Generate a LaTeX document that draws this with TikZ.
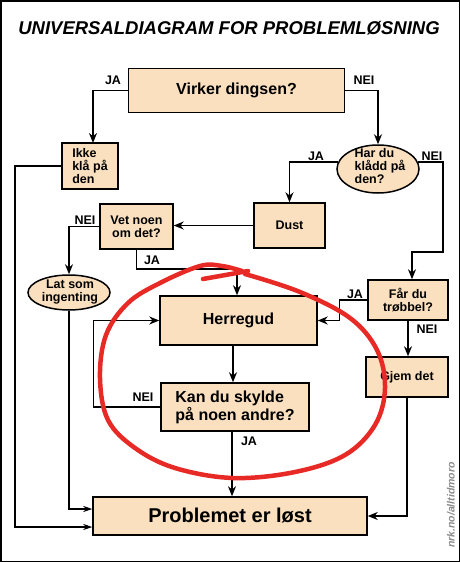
\documentclass[tikz,border=0pt]{standalone}
\usepackage{fontspec}
\setmainfont{Liberation Sans}
\usetikzlibrary{arrows.meta,shapes.geometric,calc}
\definecolor{boxfill}{RGB}{250,224,190}
\definecolor{redpen}{RGB}{232,42,38}
\begin{document}
\begin{tikzpicture}[x=1pt,y=-1pt,
  box/.style={draw=black, line width=1.5pt, fill=boxfill, inner sep=0pt, align=center},
  oval/.style={draw=black, line width=1.5pt, fill=boxfill, inner sep=0pt, ellipse},
  small/.style={font=\bfseries\fontsize{12.5}{13}\selectfont},
  big/.style={font=\bfseries\fontsize{16}{18}\selectfont},
  lbl/.style={font=\bfseries\fontsize{12.5}{13}\selectfont, inner sep=0pt},
  arr/.style={line width=1.5pt, -{Stealth[length=10pt,width=8pt]}},
  tarr/.style={line width=1.1pt, -{Stealth[length=9pt,width=6pt]}},
  redline/.style={draw=redpen, line width=4.5pt, line cap=round, line join=round}
]
\useasboundingbox (0,0) rectangle (460,562);
\fill[white] (0,0) rectangle (460,562);
\draw[line width=1.5pt] (0.75,0.75) rectangle (459.25,561.25);

\node[font=\bfseries\itshape\fontsize{18.5}{20}\selectfont] (title) at (229,28) {UNIVERSALDIAGRAM FOR PROBLEMLØSNING};

% boxes
\node[box, big, minimum width=216pt, minimum height=44pt] (virker) at (236.5,90.5) {Virker dingsen?};
\node[box, small, align=left, minimum width=56pt, minimum height=46pt] (ikke) at (90,166) {Ikke\\klå på\\den};
\node[oval, minimum width=82pt, minimum height=48pt] (har) at (378,169) {};
\node[small, align=left, inner sep=0pt] (hartxt) at (380,166) {Har du\\klådd på\\den?};
\node[box, small, minimum width=71pt, minimum height=45pt] (dust) at (289.5,225.5) {Dust};
\node[box, small, minimum width=73pt, minimum height=45pt] (vet) at (136.5,226.5) {Vet noen\\om det?};
\node[oval, minimum width=82pt, minimum height=35pt] (lat) at (69,292.5) {};
\node[small, align=center, inner sep=0pt] (lattxt) at (70,292) {Lat som\\ingenting};
\node[box, small, minimum width=80pt, minimum height=40pt] (far) at (408,300) {Får du\\trøbbel?};
\node[box, small, minimum width=82pt, minimum height=40pt] (gjem) at (407,377) {Gjem det};
\node[box, big, minimum width=157pt, minimum height=49pt] (herre) at (238.5,320.5) {Herregud};
\node[box, big, align=left, minimum width=148pt, minimum height=48pt] (kan) at (235,407) {Kan du skylde\\på noen andre?};
\node[box, font=\bfseries\fontsize{20}{22}\selectfont, minimum width=274pt, minimum height=38pt] (prob) at (230,516) {Problemet er løst};

% connectors
\draw[arr] (virker.west) -| (93,143);
\node[lbl] (l1) at (113,80) {JA};
\draw[arr] (virker.east) -| (har.north);
\node[lbl] (l2) at (364,80) {NEI};

\draw[arr] (har.170) -| (dust.north);
\node[lbl] (l3) at (316,156) {JA};
\coordinate (n1) at (443,252);
\coordinate (n2) at (412,252);
\draw[arr] (har.10) -| (n1) -- (n2) -- (n2 |- far.north);
\node[lbl] (l4) at (432,156) {NEI};

\draw[arr] (dust.west) -- (vet.east |- dust.west);

\draw[arr] (vet.west) -| (lat.north);
\node[lbl] (l5) at (85,220) {NEI};
\coordinate (j1) at (237,269);
\draw[arr] (vet.south) |- (j1) -- (j1 |- herre.north);
\node[lbl] (l6) at (152,260) {JA};

\draw[arr] (far.west) -- ++(-28,0) |- (herre.east);
\node[lbl] (l7) at (355,294) {JA};
\draw[arr] (far.south) -- (far.south |- gjem.north);
\node[lbl] (l8) at (427,329) {NEI};

\coordinate (h1) at (233,0);
\draw[arr] (h1 |- herre.south) -- (h1 |- kan.north);
\draw[arr] (kan.west) -- ++(-67,0) |- (herre.west);
\node[lbl] (l9) at (143,397) {NEI};
\coordinate (k1) at (232,0);
\draw[arr] (k1 |- kan.south) -- (k1 |- prob.north);
\node[lbl] (l10) at (249,441) {JA};

\draw[arr] (gjem.south) |- (prob.east);
\coordinate (c1) at (15,527);
\draw[tarr] (ikke.west) -| (c1) -- (c1 -| prob.west);
\coordinate (c2) at (68,509);
\draw[tarr] (lat.south) |- (c2 -| prob.west);

% red ring
\draw[redline] plot[smooth, tension=0.6] coordinates {(245,274) (300,292) (350,318) (377,350) (385,388) (375,425) (345,455) (295,472) (233,478) (175,468) (135,448) (108,420) (100,378) (106,335) (128,303) (160,283) (200,266) (222,266) (242,271)};
\draw[redline] (203,279) -- (248,271);

% watermark
\node[font=\bfseries\itshape\fontsize{10.5}{12}\selectfont, text=black!45, rotate=90] (wm) at (451,505) {nrk.no/alltidmoro};
\end{tikzpicture}
\end{document}
